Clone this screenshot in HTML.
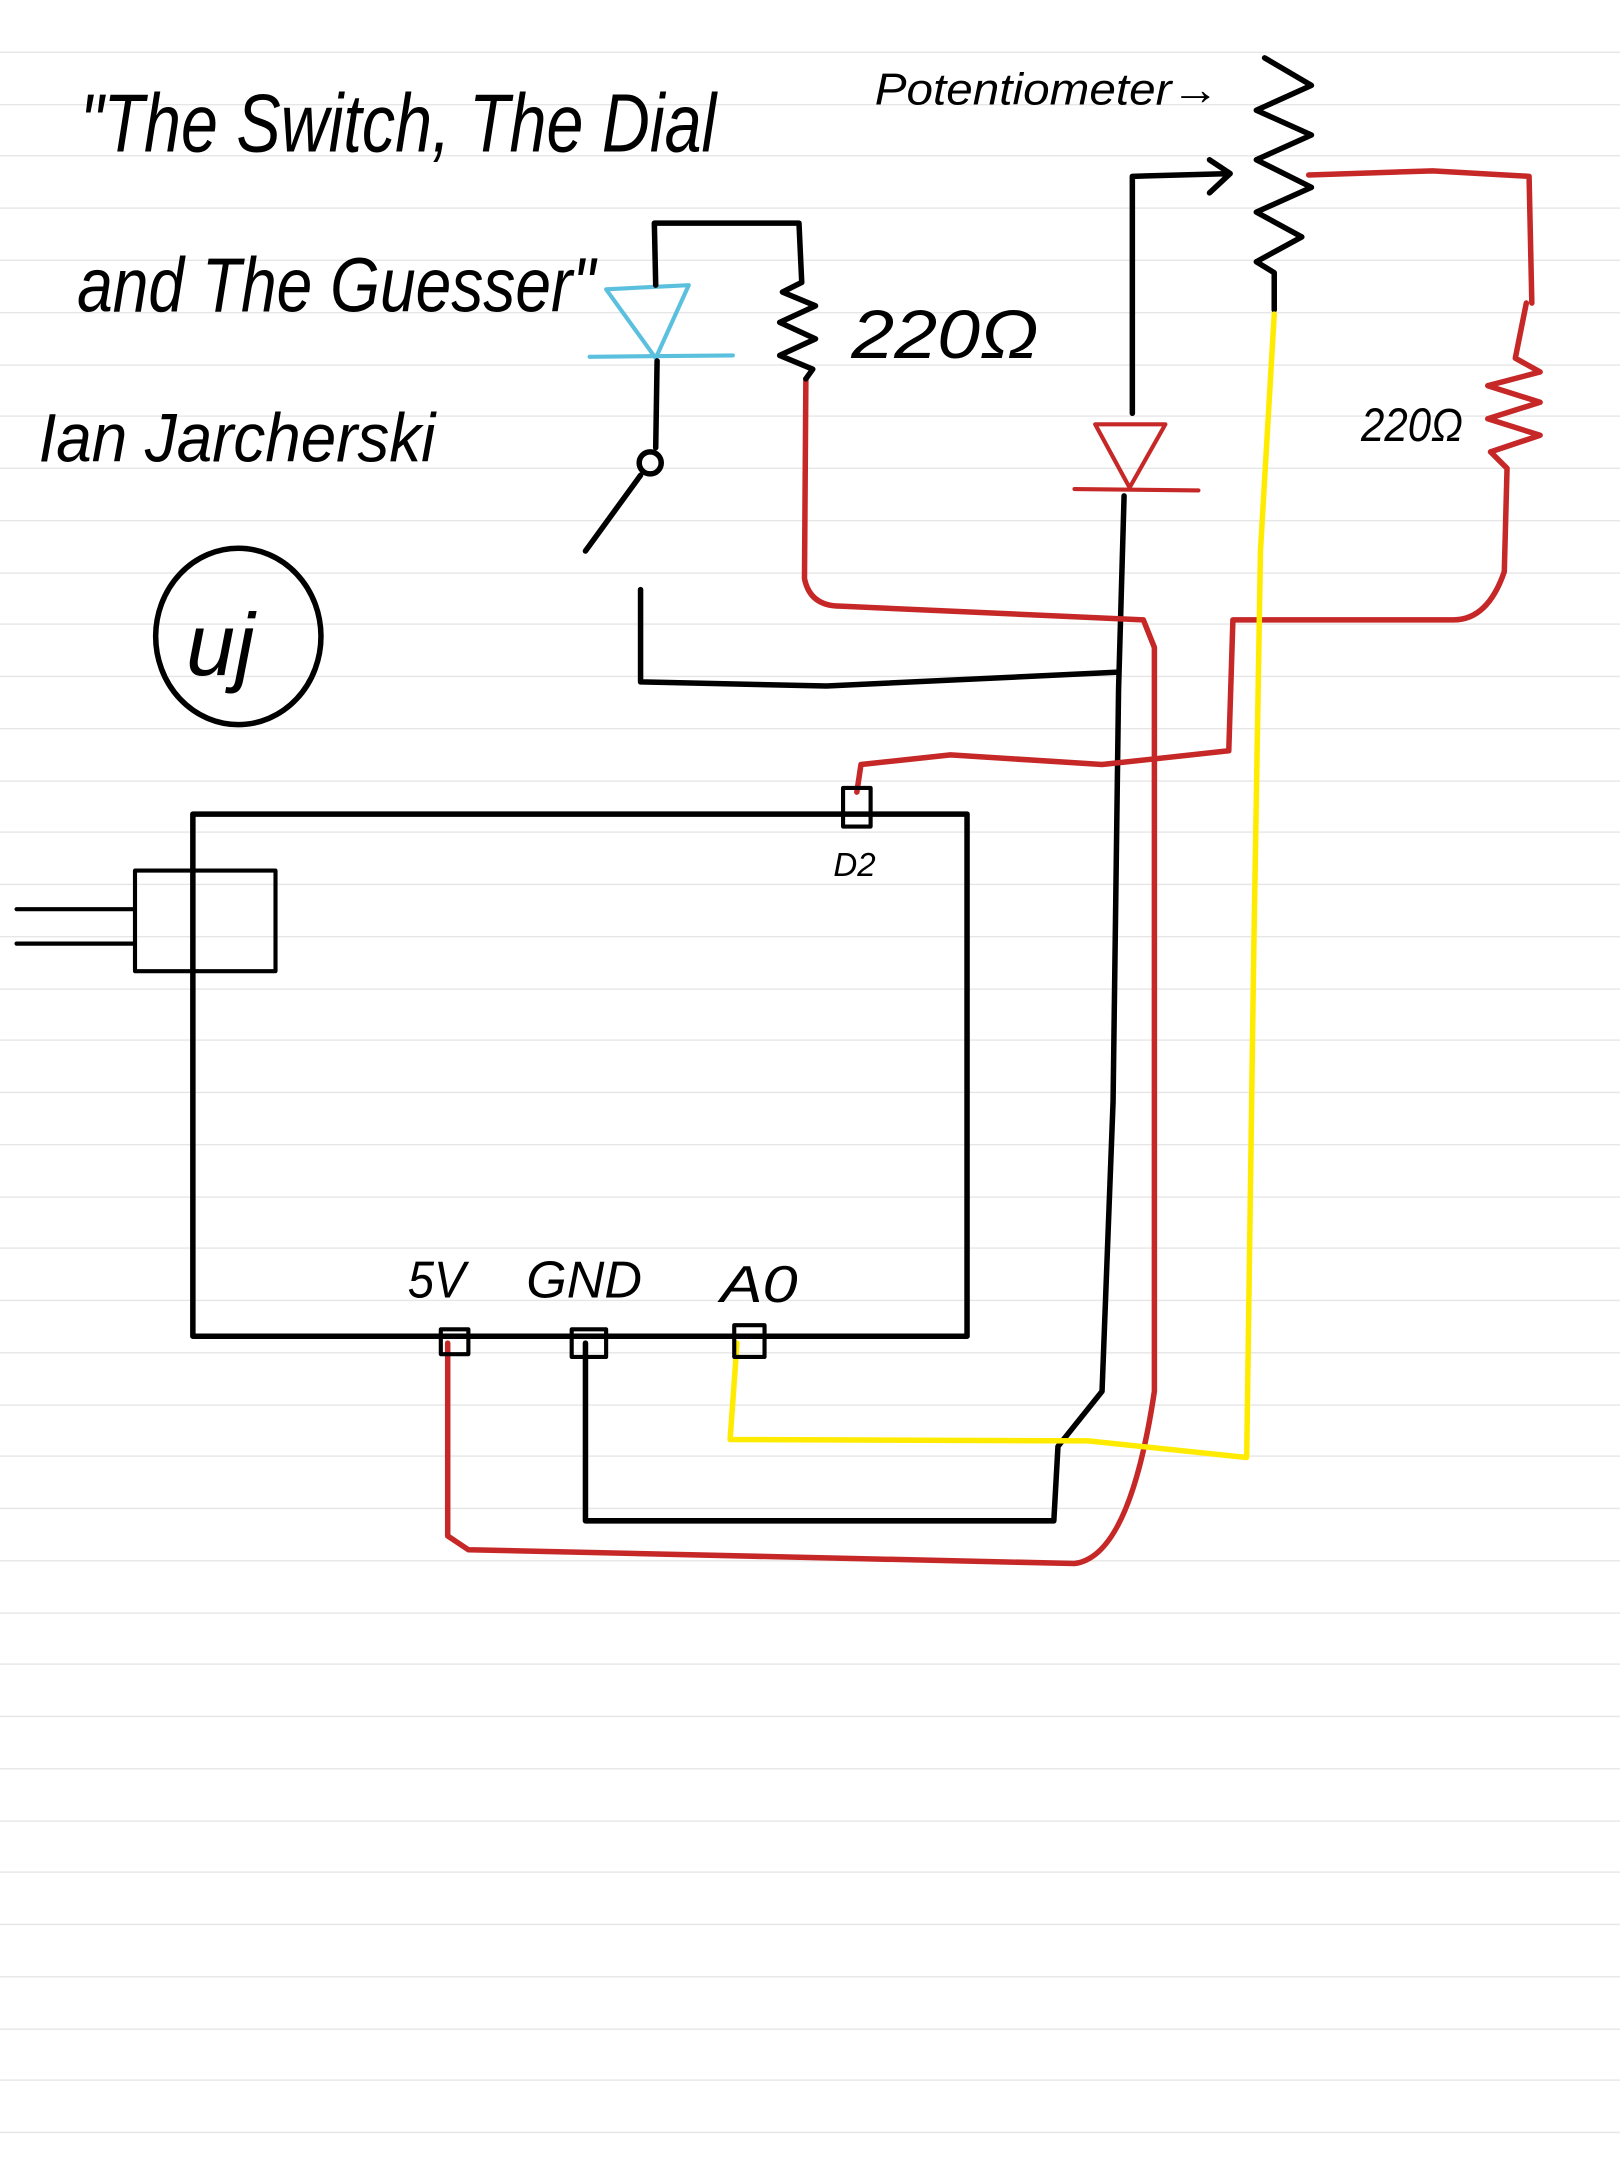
<!DOCTYPE html>
<html><head><meta charset="utf-8"><style>
html,body{margin:0;padding:0;background:#fff}
svg{display:block}
text{font-family:"Liberation Sans",sans-serif;font-style:italic;fill:#000}
</style></head><body>
<svg width="1620" height="2160" viewBox="0 0 1176 1568" preserveAspectRatio="none" xmlns="http://www.w3.org/2000/svg">
<g stroke="#e6e6e6" stroke-width="1">
<line x1="0" y1="38" x2="1176" y2="38"/><line x1="0" y1="76" x2="1176" y2="76"/><line x1="0" y1="113" x2="1176" y2="113"/><line x1="0" y1="151" x2="1176" y2="151"/><line x1="0" y1="189" x2="1176" y2="189"/><line x1="0" y1="227" x2="1176" y2="227"/><line x1="0" y1="265" x2="1176" y2="265"/><line x1="0" y1="302" x2="1176" y2="302"/><line x1="0" y1="340" x2="1176" y2="340"/><line x1="0" y1="378" x2="1176" y2="378"/><line x1="0" y1="416" x2="1176" y2="416"/><line x1="0" y1="453" x2="1176" y2="453"/><line x1="0" y1="491" x2="1176" y2="491"/><line x1="0" y1="529" x2="1176" y2="529"/><line x1="0" y1="567" x2="1176" y2="567"/><line x1="0" y1="604" x2="1176" y2="604"/><line x1="0" y1="642" x2="1176" y2="642"/><line x1="0" y1="680" x2="1176" y2="680"/><line x1="0" y1="718" x2="1176" y2="718"/><line x1="0" y1="755" x2="1176" y2="755"/><line x1="0" y1="793" x2="1176" y2="793"/><line x1="0" y1="831" x2="1176" y2="831"/><line x1="0" y1="869" x2="1176" y2="869"/><line x1="0" y1="906" x2="1176" y2="906"/><line x1="0" y1="944" x2="1176" y2="944"/><line x1="0" y1="982" x2="1176" y2="982"/><line x1="0" y1="1020" x2="1176" y2="1020"/><line x1="0" y1="1057" x2="1176" y2="1057"/><line x1="0" y1="1095" x2="1176" y2="1095"/><line x1="0" y1="1133" x2="1176" y2="1133"/><line x1="0" y1="1171" x2="1176" y2="1171"/><line x1="0" y1="1208" x2="1176" y2="1208"/><line x1="0" y1="1246" x2="1176" y2="1246"/><line x1="0" y1="1284" x2="1176" y2="1284"/><line x1="0" y1="1322" x2="1176" y2="1322"/><line x1="0" y1="1359" x2="1176" y2="1359"/><line x1="0" y1="1397" x2="1176" y2="1397"/><line x1="0" y1="1435" x2="1176" y2="1435"/><line x1="0" y1="1473" x2="1176" y2="1473"/><line x1="0" y1="1510" x2="1176" y2="1510"/><line x1="0" y1="1548" x2="1176" y2="1548"/>
</g>
<text x="58" y="110" font-size="60" textLength="462" lengthAdjust="spacingAndGlyphs">"The Switch, The Dial</text>
<text x="56" y="226" font-size="56" textLength="376" lengthAdjust="spacingAndGlyphs">and The Guesser"</text>
<text x="28" y="335" font-size="50" textLength="288" lengthAdjust="spacingAndGlyphs">Ian Jarcherski</text>
<ellipse cx="173" cy="462" rx="60" ry="64" fill="none" stroke="#000" stroke-width="4"/>
<text x="135" y="490" font-size="64">uj</text>
<text x="635" y="76" font-size="32" textLength="250" lengthAdjust="spacingAndGlyphs">Potentiometer→</text>
<g fill="none" stroke-linejoin="round" stroke-linecap="round" stroke-width="4">
<path d="M918 42 L952 62 L912 80 L952 98 L912 116 L952 136 L912 154 L945 172 L912 190 L925 198 L925 225" stroke="#000"/>
<path d="M822 300 L822 128 L892 126 M878 116 L893 126 L878 140" stroke="#000"/>
<path d="M795 308 L846 308 L820 354 Z" stroke="#c62828" stroke-width="3"/>
<path d="M780 355 L870 356" stroke="#c62828" stroke-width="3"/>
<path d="M816 360 L812 500 L808 800 L800 1010 L768 1050 L765 1104 L425 1104 L425 975" stroke="#000"/>
<path d="M950 127 L1040 124 L1110 128 L1112 220" stroke="#c62828"/>
<path d="M1108 220 L1100 260 L1118 270 L1080 280 L1118 292 L1080 304 L1118 316 L1082 328 L1094 340 L1092 415 Q1080 450 1055 450 L895 450 L892 545 L800 555 L690 548 L625 555 L622 575" stroke="#c62828"/>
<path d="M585 275 L584 420 Q588 440 610 440 L830 450 L838 470 L838 1010 Q820 1130 780 1135 L340 1125 L325 1115 L325 975" stroke="#c62828"/>
<path d="M925 228 L915 400 L910 700 L905 1058 L790 1046 L530 1045 L535 975" stroke="#ffeb00"/>
<path d="M440 210 L500 207 L476 260 Z" stroke="#5bc0de" stroke-width="3"/>
<path d="M428 259 L532 258" stroke="#5bc0de" stroke-width="3"/>
<path d="M476 207 L475 162 L580 162 L582 205 L568 212 L592 222 L566 234 L592 246 L566 258 L590 268 L585 275" stroke="#000"/>
<path d="M477 262 L476 325" stroke="#000"/>
<circle cx="472" cy="336" r="8" stroke="#000"/>
<path d="M465 345 L425 400" stroke="#000"/>
<path d="M465 428 L465 495 L600 498 L810 488" stroke="#000"/>
<rect x="140" y="591" width="562" height="379" stroke="#000"/>
<path d="M98 632 L200 632 L200 705 L98 705 Z M12 660 L98 660 M12 685 L98 685" stroke="#000" stroke-width="3"/>
<rect x="612" y="572" width="20" height="28" stroke="#000" stroke-width="3"/>
<rect x="320" y="965" width="20" height="18" stroke="#000" stroke-width="3"/>
<rect x="415" y="965" width="25" height="20" stroke="#000" stroke-width="3"/>
<rect x="533" y="962" width="22" height="23" stroke="#000" stroke-width="3"/>
</g>
<text x="618" y="260" font-size="50" textLength="136" lengthAdjust="spacingAndGlyphs">220Ω</text>
<text x="988" y="320" font-size="34" textLength="74" lengthAdjust="spacingAndGlyphs">220Ω</text>
<text x="605" y="636" font-size="24">D2</text>
<text x="296" y="942" font-size="38" textLength="42" lengthAdjust="spacingAndGlyphs">5V</text>
<text x="382" y="942" font-size="38" textLength="84" lengthAdjust="spacingAndGlyphs">GND</text>
<text x="523" y="945" font-size="38" textLength="56" lengthAdjust="spacingAndGlyphs">A0</text>
</svg>
</body></html>
